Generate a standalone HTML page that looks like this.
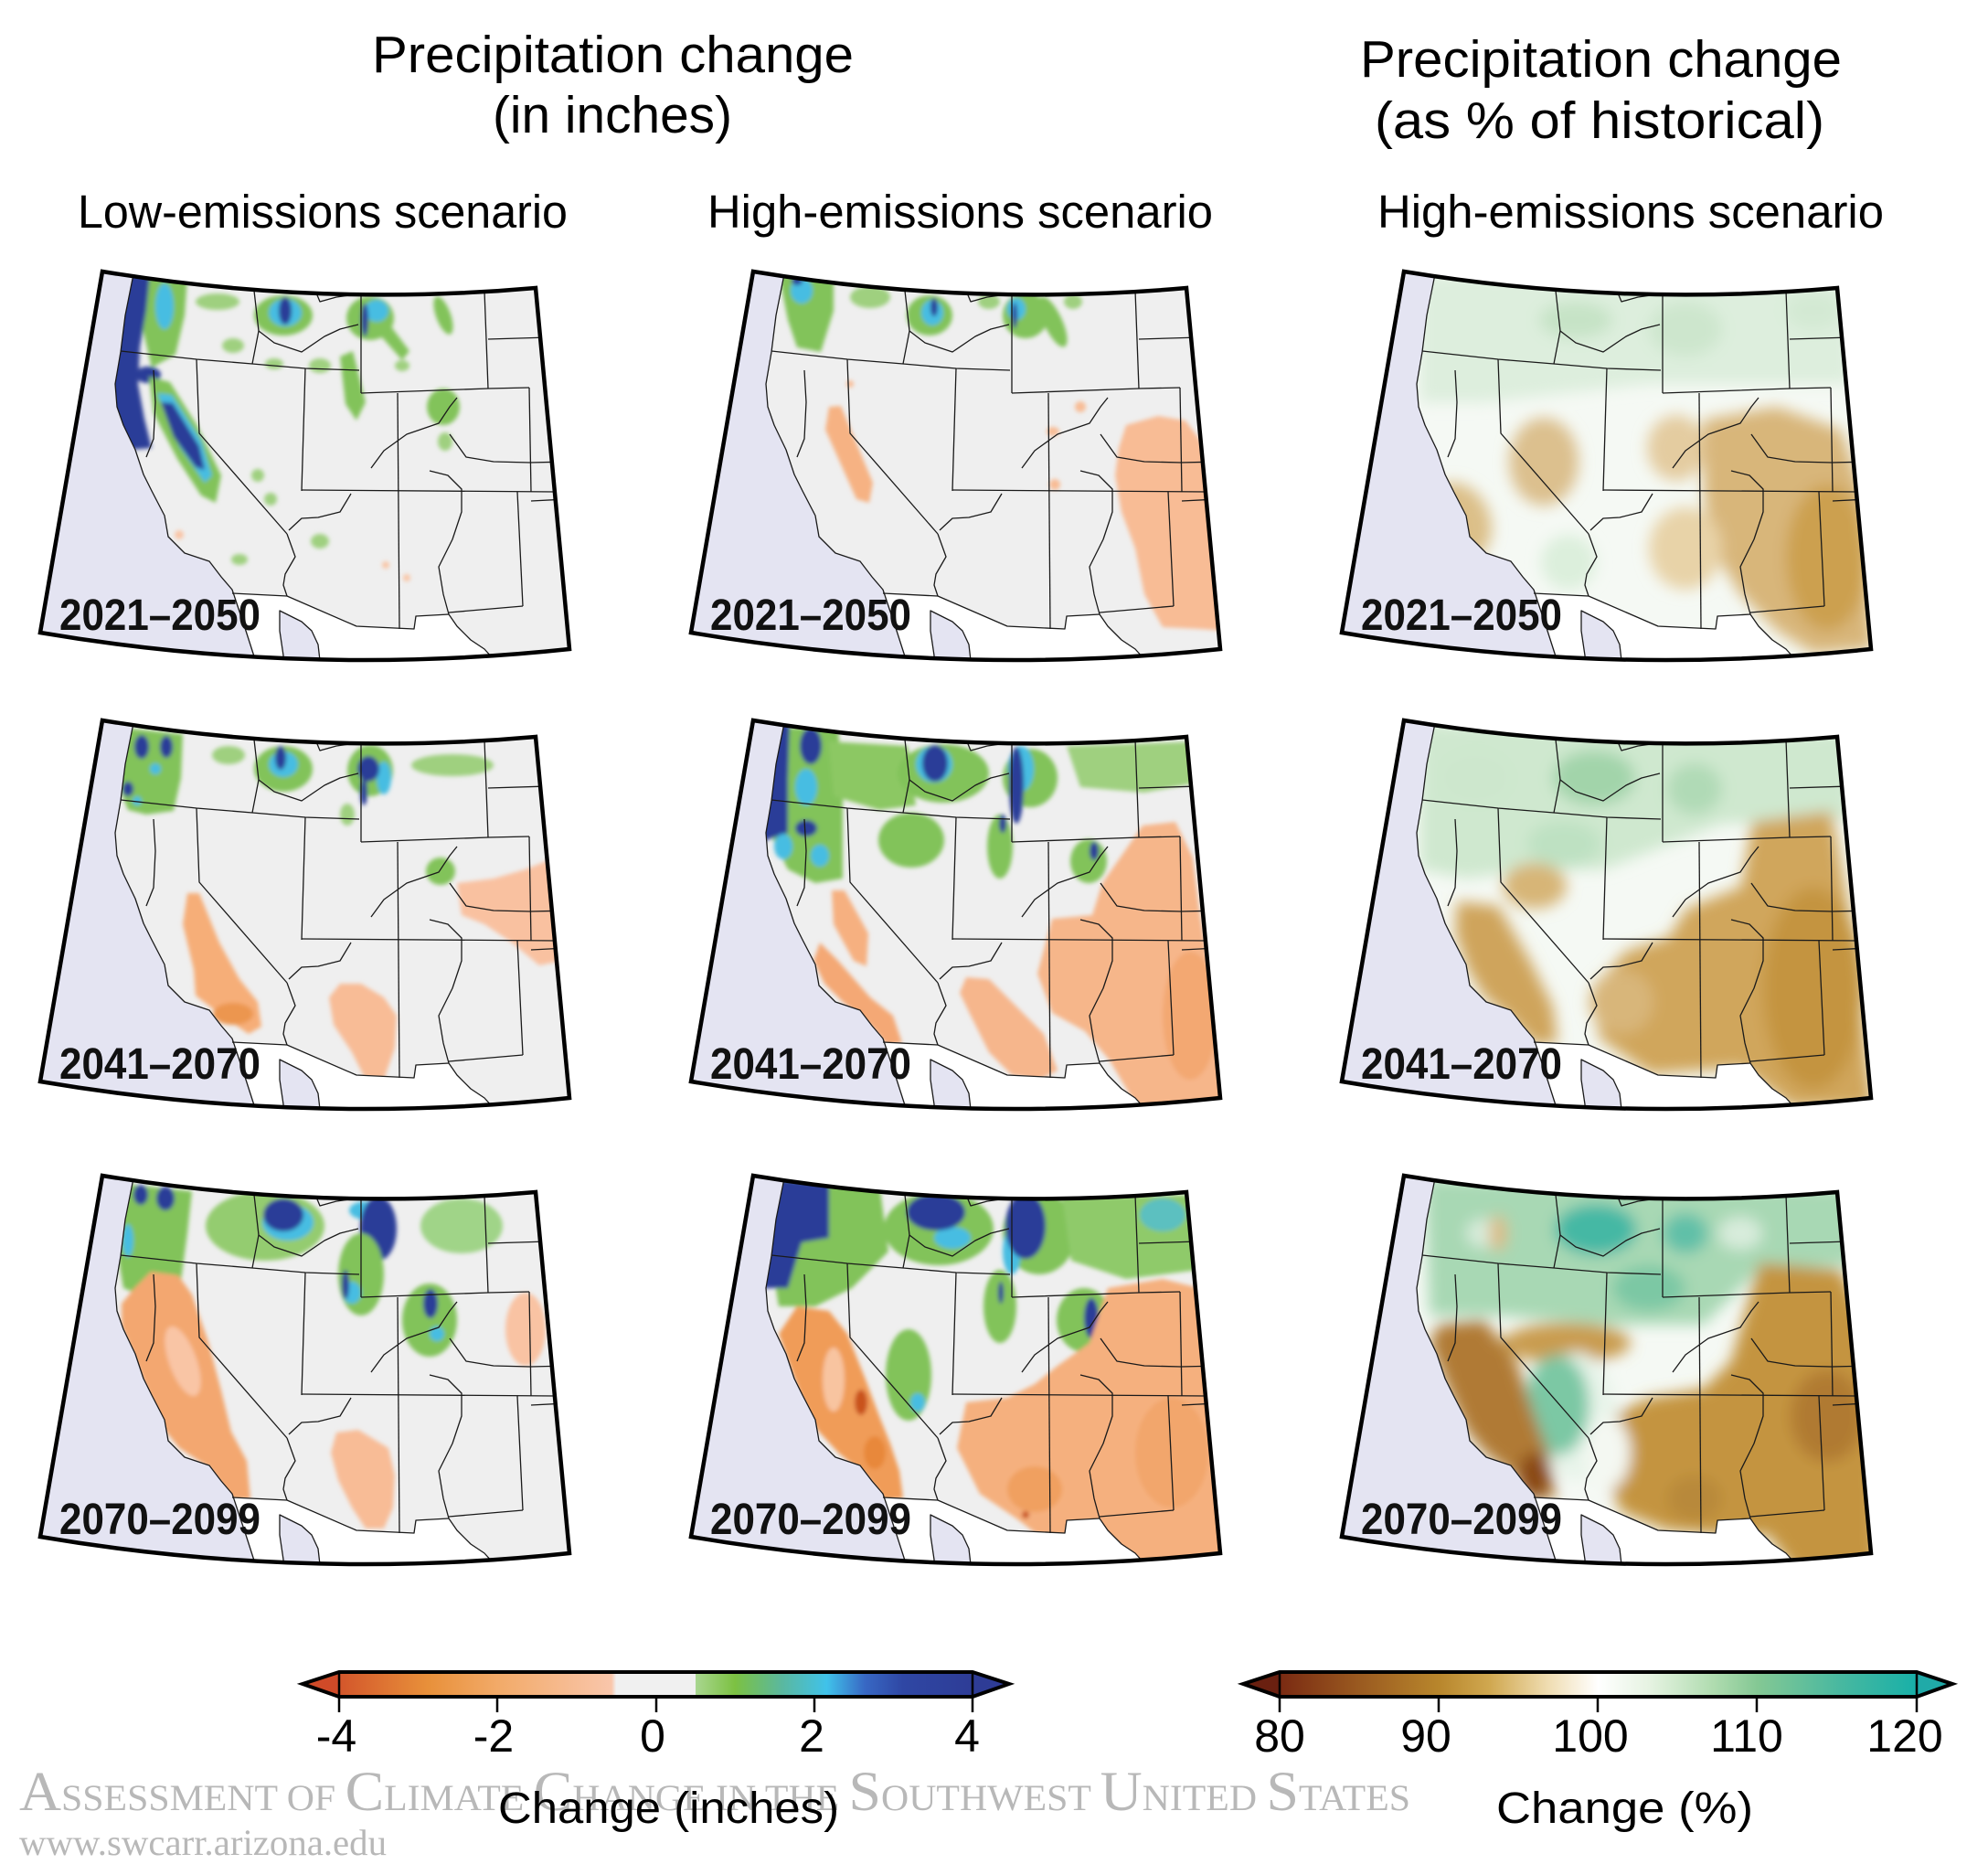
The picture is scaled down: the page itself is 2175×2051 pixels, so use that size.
<!DOCTYPE html>
<html><head><meta charset="utf-8"><title>Precipitation change</title>
<style>
html,body{margin:0;padding:0;background:#fff;}
svg{display:block;}
.t{font-family:"Liberation Sans",Arial,sans-serif;fill:#000;}
.lab{font-family:"Liberation Sans",Arial,sans-serif;font-weight:bold;font-size:48px;fill:#111;}
.wm{font-family:"Liberation Serif","Times New Roman",serif;fill:#b8b8b8;}
</style></head>
<body>
<svg xmlns="http://www.w3.org/2000/svg" width="2175" height="2051" viewBox="0 0 2175 2051">
<rect width="2175" height="2051" fill="#fff"/>
<defs>
 <clipPath id="frame"><path d="M112,297 Q349,336 586,315 L623,710 Q333,741 44,692 Z"/></clipPath>
 <filter id="bl" x="-10%" y="-10%" width="120%" height="120%"><feGaussianBlur stdDeviation="2.5"/></filter>
 <filter id="bl2" x="-10%" y="-10%" width="120%" height="120%"><feGaussianBlur stdDeviation="8"/></filter>
 <g id="sea">
  <path fill="#e4e4f2" d="M0,270 L146,270 L146,300 L140,330 L137,345 L132,385 L126,420 L128,445 L135,465 L148,492 L157,519 L166,537 L180,564 L184,587 L202,605 L229,614 L242,631 L254,645 L260,663 L269,690 L278,718 L282,770 L0,770 Z"/>
  <path fill="#ffffff" d="M254,649 L314,652 L390,685 L453,688 L455,674 L491,672 L500,685 L515,700 L530,710 L539,720 L545,770 L282,770 L278,718 L269,690 L260,663 Z"/>
  <path fill="#e4e4f2" d="M306,668 L314,672 L330,680 L341,690 L348,705 L352,770 L312,770 L310,717 L306,690 Z"/>
 </g>
 <g id="lines" fill="none" stroke="#1a1a1a" stroke-width="1.3" stroke-linejoin="round">
  <path d="M146,300 L140,330 L137,345 L132,385 L126,420 L128,445 L135,465 L148,492 L157,519 L166,537 L180,564 L184,587 L202,605 L229,614 L242,631 L254,645 L260,663 L269,690 L278,718 L282,740"/>
  <path d="M310,740 L310,717 L306,690 L306,668 L314,672 L330,680 L341,690 L348,705 L352,740"/>
  <path d="M254,649 L314,652 L390,685 L453,688 L455,674 L491,672"/>
  <path d="M470,515 L490,520 L505,535 L505,560 L495,590 L480,620 L485,650 L491,672 L500,685 L515,700 L530,710 L539,720 L545,740"/>
  <path d="M132,384 L215,393 L276,398 L334,403 L393,405"/>
  <path d="M278,318 L283,362 L276,398"/>
  <path d="M283,362 L300,375 L330,385 L355,368 L372,360 L392,355"/>
  <path d="M345,318 L350,330 L368,325 L390,322"/>
  <path d="M395,318 L395,430"/>
  <path d="M395,430 L534,425 L579,424"/>
  <path d="M530,318 L534,425"/>
  <path d="M534,371 L600,369"/>
  <path d="M435,430 L437,688"/>
  <path d="M334,403 L330,537"/>
  <path d="M215,393 L218,474 L314,584"/>
  <path d="M314,584 L323,609 L312,628 L310,640 L314,652"/>
  <path d="M330,536 L608,538"/>
  <path d="M579,424 L581,538"/>
  <path d="M566,538 L572,663"/>
  <path d="M491,670 L572,663"/>
  <path d="M581,548 L620,546"/>
  <path d="M384,540 L372,560 L348,566 L330,567 L316,580"/>
  <path d="M406,512 L420,493 L445,475 L480,463 L492,445 L500,435"/>
  <path d="M492,475 L510,500 L540,505 L580,506 L625,505"/>
  <path d="M168,405 L170,440 L168,480 L160,500"/>
 </g>
 <path id="frm" d="M112,297 Q349,336 586,315 L623,710 Q333,741 44,692 Z" fill="none" stroke="#000" stroke-width="4.5"/>
 <linearGradient id="cb1" x1="371" y1="0" x2="1064" y2="0" gradientUnits="userSpaceOnUse">
  <stop offset="0" stop-color="#d3562b"/>
  <stop offset="0.14" stop-color="#e8903a"/>
  <stop offset="0.25" stop-color="#f2aa68"/>
  <stop offset="0.43" stop-color="#f9c6ab"/>
  <stop offset="0.4375" stop-color="#f0f0f0"/>
  <stop offset="0.5625" stop-color="#f0f0f0"/>
  <stop offset="0.5626" stop-color="#a9d690"/>
  <stop offset="0.625" stop-color="#7cc142"/>
  <stop offset="0.7" stop-color="#5ab8a0"/>
  <stop offset="0.77" stop-color="#40c2ea"/>
  <stop offset="0.83" stop-color="#3868c4"/>
  <stop offset="0.89" stop-color="#2f47a4"/>
  <stop offset="1" stop-color="#2e3c96"/>
 </linearGradient>
 <linearGradient id="cb2" x1="1400" y1="0" x2="2097" y2="0" gradientUnits="userSpaceOnUse">
  <stop offset="0" stop-color="#7a2a12"/>
  <stop offset="0.125" stop-color="#9a5a20"/>
  <stop offset="0.25" stop-color="#b8862c"/>
  <stop offset="0.33" stop-color="#d0a850"/>
  <stop offset="0.42" stop-color="#efdcb0"/>
  <stop offset="0.5" stop-color="#ffffff"/>
  <stop offset="0.58" stop-color="#e6f3e2"/>
  <stop offset="0.68" stop-color="#b0dcb0"/>
  <stop offset="0.75" stop-color="#84c894"/>
  <stop offset="0.88" stop-color="#48b8a0"/>
  <stop offset="1" stop-color="#18b0a8"/>
 </linearGradient>
</defs>

<!-- Titles -->
<text class="t" x="407" y="79" font-size="57" textLength="527" lengthAdjust="spacingAndGlyphs">Precipitation change</text>
<text class="t" x="539" y="145" font-size="57" textLength="262" lengthAdjust="spacingAndGlyphs">(in inches)</text>
<text class="t" x="1488" y="84" font-size="57" textLength="527" lengthAdjust="spacingAndGlyphs">Precipitation change</text>
<text class="t" x="1504" y="151" font-size="57" textLength="492" lengthAdjust="spacingAndGlyphs">(as % of historical)</text>
<text class="t" x="85" y="249" font-size="51" textLength="536" lengthAdjust="spacingAndGlyphs">Low-emissions scenario</text>
<text class="t" x="774" y="249" font-size="51" textLength="553" lengthAdjust="spacingAndGlyphs">High-emissions scenario</text>
<text class="t" x="1507" y="249" font-size="51" textLength="554" lengthAdjust="spacingAndGlyphs">High-emissions scenario</text>

<!-- ===== Row 1 Col 1 ===== -->
<g transform="translate(0,0)">
 <g clip-path="url(#frame)">
  <rect x="30" y="270" width="630" height="490" fill="#efefef"/>
  <g filter="url(#bl)">
   <path fill="#82c35a" d="M160,300 L205,303 L202,345 L192,388 L166,402 L156,360 Z"/>
   <ellipse cx="180" cy="335" rx="10" ry="25" fill="#46bde2"/>
   <path fill="#2c3d98" d="M120,300 L164,300 L160,340 L153,380 L151,420 L158,458 L166,490 L120,494 Z"/>
   <ellipse cx="162" cy="410" rx="14" ry="9" fill="#2c3d98"/>
   <path fill="#82c35a" d="M163,412 L186,418 L216,466 L242,520 L236,550 L220,542 L194,502 L168,452 Z"/>
   <path fill="#46bde2" d="M172,430 L188,432 L220,482 L232,520 L224,528 L196,488 Z"/>
   <path fill="#2c3d98" d="M176,440 L189,441 L218,488 L224,514 L214,511 L190,478 Z"/>
   <ellipse cx="310" cy="345" rx="32" ry="22" fill="#82c35a"/>
   <ellipse cx="312" cy="342" rx="18" ry="15" fill="#46bde2"/>
   <ellipse cx="312" cy="340" rx="7" ry="15" fill="#2c3d98"/>
   <ellipse cx="405" cy="348" rx="26" ry="24" fill="#82c35a"/>
   <ellipse cx="412" cy="340" rx="13" ry="12" fill="#46bde2"/>
   <ellipse cx="399" cy="350" rx="4" ry="18" fill="#2c3d98"/>
   <path fill="#82c35a" d="M410,360 L424,352 L448,384 L440,394 Z"/>
   <path fill="#82c35a" d="M372,390 L386,384 L400,440 L390,460 L378,442 Z"/>
   <ellipse cx="485" cy="345" rx="8" ry="22" fill="#82c35a" transform="rotate(-20 485 345)"/>
   <ellipse cx="238" cy="330" rx="24" ry="9" fill="#9fd07f"/>
   <ellipse cx="255" cy="378" rx="12" ry="8" fill="#9fd07f"/>
   <ellipse cx="485" cy="445" rx="18" ry="20" fill="#82c35a"/>
   <ellipse cx="487" cy="483" rx="8" ry="10" fill="#9fd07f"/>
   <ellipse cx="282" cy="520" rx="7" ry="7" fill="#9fd07f"/>
   <ellipse cx="296" cy="546" rx="7" ry="7" fill="#9fd07f"/>
   <ellipse cx="350" cy="592" rx="10" ry="8" fill="#9fd07f"/>
   <ellipse cx="262" cy="612" rx="9" ry="6" fill="#9fd07f"/>
   <ellipse cx="300" cy="398" rx="10" ry="6" fill="#9fd07f"/>
   <ellipse cx="350" cy="400" rx="12" ry="8" fill="#9fd07f"/>
   <ellipse cx="440" cy="400" rx="8" ry="6" fill="#9fd07f"/>
   <circle cx="196" cy="585" r="5" fill="#f9c4a4"/>
   <circle cx="422" cy="618" r="4" fill="#f9c4a4"/>
   <circle cx="445" cy="632" r="4" fill="#f9c4a4"/>
  </g>
  <use href="#sea"/>
  <use href="#lines"/>
 </g>
 <use href="#frm"/>
 <text class="lab" x="65" y="689" textLength="220" lengthAdjust="spacingAndGlyphs">2021–2050</text>
</g>

<!-- ===== Row 1 Col 2 ===== -->
<g transform="translate(712,0)">
 <g clip-path="url(#frame)">
  <rect x="30" y="270" width="630" height="490" fill="#efefef"/>
  <g filter="url(#bl)">
   <path fill="#82c35a" d="M140,300 L200,304 L200,340 L186,385 L160,380 L150,350 Z"/>
   <ellipse cx="165" cy="318" rx="12" ry="14" fill="#46bde2"/>
   <ellipse cx="160" cy="307" rx="6" ry="5" fill="#2c3d98"/>
   <ellipse cx="240" cy="325" rx="22" ry="12" fill="#9fd07f"/>
   <ellipse cx="305" cy="345" rx="25" ry="22" fill="#82c35a"/>
   <ellipse cx="308" cy="342" rx="12" ry="14" fill="#46bde2"/>
   <ellipse cx="310" cy="336" rx="4" ry="10" fill="#2c3d98"/>
   <ellipse cx="410" cy="345" rx="25" ry="25" fill="#82c35a"/>
   <ellipse cx="400" cy="338" rx="10" ry="12" fill="#46bde2"/>
   <ellipse cx="398" cy="345" rx="3" ry="14" fill="#2c3d98"/>
   <ellipse cx="440" cy="352" rx="10" ry="30" fill="#82c35a" transform="rotate(-25 440 352)"/>
   <ellipse cx="370" cy="330" rx="12" ry="8" fill="#9fd07f"/>
   <ellipse cx="462" cy="330" rx="10" ry="8" fill="#9fd07f"/>
   <path fill="#f6b283" d="M195,445 L208,444 L243,528 L239,550 L225,546 L191,470 Z"/>
   <path fill="#f8bc95" d="M520,465 L555,455 L585,460 L600,480 L617,520 L624,600 L628,690 L600,688 L560,686 L540,650 L530,600 L515,560 L508,520 L512,490 Z"/>
   <circle cx="470" cy="445" r="6" fill="#f8bc95"/>
   <ellipse cx="440" cy="472" rx="7" ry="5" fill="#f8bc95"/>
   <circle cx="442" cy="530" r="6" fill="#f8bc95"/>
   <circle cx="218" cy="420" r="4" fill="#f8bc95"/>
  </g>
  <use href="#sea"/>
  <use href="#lines"/>
 </g>
 <use href="#frm"/>
 <text class="lab" x="65" y="689" textLength="220" lengthAdjust="spacingAndGlyphs">2021–2050</text>
</g>

<!-- ===== Row 1 Col 3 ===== -->
<g transform="translate(1424,0)">
 <g clip-path="url(#frame)">
  <rect x="30" y="270" width="630" height="490" fill="#f5f9f4"/>
  <g filter="url(#bl2)">
   <path fill="#ddeedd" d="M130,300 L600,310 L600,420 L380,420 L200,440 L130,440 Z"/>
   <ellipse cx="300" cy="350" rx="40" ry="20" fill="#c6e3c6"/>
   <ellipse cx="420" cy="360" rx="40" ry="30" fill="#cde6cd"/>
   <ellipse cx="560" cy="340" rx="30" ry="20" fill="#d3e9d3"/>
   <ellipse cx="265" cy="505" rx="38" ry="48" fill="#dcc08e"/>
   <ellipse cx="172" cy="570" rx="34" ry="44" fill="#dcbf88" transform="rotate(-25 172 570)"/>
   <ellipse cx="410" cy="490" rx="32" ry="36" fill="#e4cca0"/>
   <path fill="#d8b67a" d="M440,459 L520,445 L590,470 L615,540 L625,710 L560,715 L520,690 L480,650 L450,600 L440,540 Z"/>
   <ellipse cx="575" cy="610" rx="45" ry="80" fill="#cca050"/>
   <ellipse cx="420" cy="600" rx="40" ry="45" fill="#e8d3a8"/>
   <ellipse cx="292" cy="615" rx="30" ry="30" fill="#dcefdc"/>
  </g>
  <use href="#sea"/>
  <use href="#lines"/>
 </g>
 <use href="#frm"/>
 <text class="lab" x="65" y="689" textLength="220" lengthAdjust="spacingAndGlyphs">2021–2050</text>
</g>

<!-- ===== Row 2 Col 1 ===== -->
<g transform="translate(0,491)">
 <g clip-path="url(#frame)">
  <rect x="30" y="270" width="630" height="490" fill="#efefef"/>
  <g filter="url(#bl)">
   <path fill="#82c35a" d="M134,305 L200,312 L198,360 L190,396 L160,400 L140,395 L130,370 Z"/>
   <ellipse cx="155" cy="326" rx="8" ry="13" fill="#2c3d98"/>
   <ellipse cx="182" cy="326" rx="7" ry="12" fill="#2c3d98"/>
   <ellipse cx="140" cy="372" rx="6" ry="8" fill="#2c3d98"/>
   <circle cx="170" cy="350" r="6" fill="#46bde2"/>
   <circle cx="150" cy="385" r="5" fill="#46bde2"/>
   <ellipse cx="310" cy="350" rx="32" ry="25" fill="#82c35a"/>
   <ellipse cx="310" cy="345" rx="16" ry="14" fill="#46bde2"/>
   <ellipse cx="307" cy="338" rx="6" ry="13" fill="#2c3d98"/>
   <ellipse cx="405" cy="352" rx="25" ry="28" fill="#82c35a"/>
   <ellipse cx="420" cy="360" rx="8" ry="18" fill="#46bde2"/>
   <ellipse cx="403" cy="350" rx="12" ry="14" fill="#2c3d98"/>
   <ellipse cx="398" cy="375" rx="4" ry="15" fill="#2c3d98"/>
   <ellipse cx="495" cy="346" rx="45" ry="12" fill="#9fd07f"/>
   <ellipse cx="250" cy="335" rx="18" ry="10" fill="#9fd07f"/>
   <ellipse cx="482" cy="462" rx="16" ry="15" fill="#82c35a"/>
   <ellipse cx="380" cy="400" rx="8" ry="12" fill="#9fd07f"/>
   <path fill="#f6ae78" d="M205,486 L218,486 L240,540 L262,580 L282,605 L286,632 L272,640 L250,625 L232,612 L214,598 L212,570 L200,520 Z"/>
   <ellipse cx="255" cy="618" rx="22" ry="12" fill="#ec9650"/>
   <path fill="#f8bc96" d="M372,585 L395,585 L420,600 L434,620 L432,655 L420,690 L400,690 L385,660 L365,630 L360,600 Z"/>
   <path fill="#f9c1a0" d="M500,475 L540,470 L575,460 L600,450 L615,470 L615,560 L590,565 L560,540 L530,520 L505,510 Z"/>
  </g>
  <use href="#sea"/>
  <use href="#lines"/>
 </g>
 <use href="#frm"/>
 <text class="lab" x="65" y="689" textLength="220" lengthAdjust="spacingAndGlyphs">2041–2070</text>
</g>

<!-- ===== Row 2 Col 2 ===== -->
<g transform="translate(712,491)">
 <g clip-path="url(#frame)">
  <rect x="30" y="270" width="630" height="490" fill="#efefef"/>
  <g filter="url(#bl)">
   <path fill="#82c35a" d="M130,305 L205,305 L210,380 L210,470 L180,475 L150,460 L130,420 Z"/>
   <path fill="#8cc864" d="M194,320 L281,325 L290,390 L250,395 L200,380 Z"/>
   <ellipse cx="170" cy="370" rx="12" ry="20" fill="#46bde2"/>
   <ellipse cx="185" cy="445" rx="10" ry="12" fill="#46bde2"/>
   <path fill="#2c3d98" d="M120,300 L152,300 L150,360 L150,420 L120,430 Z"/>
   <ellipse cx="175" cy="325" rx="12" ry="20" fill="#2c3d98"/>
   <ellipse cx="170" cy="415" rx="12" ry="9" fill="#2c3d98"/>
   <ellipse cx="145" cy="435" rx="10" ry="14" fill="#46bde2"/>
   <ellipse cx="320" cy="355" rx="50" ry="32" fill="#82c35a"/>
   <ellipse cx="310" cy="345" rx="20" ry="20" fill="#46bde2"/>
   <ellipse cx="311" cy="344" rx="14" ry="20" fill="#2c3d98"/>
   <ellipse cx="415" cy="360" rx="30" ry="32" fill="#82c35a"/>
   <ellipse cx="405" cy="350" rx="14" ry="25" fill="#46bde2"/>
   <ellipse cx="400" cy="368" rx="8" ry="42" fill="#2c3d98"/>
   <ellipse cx="285" cy="428" rx="36" ry="30" fill="#82c35a"/>
   <ellipse cx="382" cy="435" rx="14" ry="35" fill="#82c35a"/>
   <ellipse cx="385" cy="410" rx="4" ry="10" fill="#2c3d98"/>
   <path fill="#9fd07f" d="M455,325 L600,320 L600,365 L540,376 L470,370 Z"/>
   <ellipse cx="479" cy="451" rx="20" ry="24" fill="#82c35a"/>
   <ellipse cx="485" cy="440" rx="5" ry="10" fill="#2c3d98"/>
   <path fill="#f6b080" d="M198,483 L212,483 L238,530 L236,566 L222,560 L200,520 Z"/>
   <path fill="#f4a874" d="M185,540 L205,560 L240,600 L265,620 L275,650 L258,652 L240,630 L210,605 L190,585 L178,560 Z"/>
   <path fill="#f6b68c" d="M345,578 L370,580 L400,610 L430,640 L445,680 L425,690 L395,685 L370,660 L350,620 L338,595 Z"/>
   <path fill="#f6b68a" d="M494,475 L538,412 L574,408 L593,447 L601,510 L617,605 L630,730 L538,730 L502,669 L475,637 L439,617 L423,574 L439,514 L483,510 Z"/>
   <ellipse cx="590" cy="620" rx="30" ry="70" fill="#f3a872"/>
  </g>
  <use href="#sea"/>
  <use href="#lines"/>
 </g>
 <use href="#frm"/>
 <text class="lab" x="65" y="689" textLength="220" lengthAdjust="spacingAndGlyphs">2041–2070</text>
</g>

<!-- ===== Row 2 Col 3 ===== -->
<g transform="translate(1424,491)">
 <g clip-path="url(#frame)">
  <rect x="30" y="270" width="630" height="490" fill="#f5f9f4"/>
  <g filter="url(#bl2)">
   <path fill="#cfe8cf" d="M130,300 L600,310 L600,405 L460,410 L330,460 L250,460 L180,470 L130,460 Z"/>
   <ellipse cx="320" cy="360" rx="45" ry="30" fill="#a2d4aa"/>
   <ellipse cx="430" cy="372" rx="30" ry="28" fill="#b0dab6"/>
   <ellipse cx="287" cy="432" rx="40" ry="25" fill="#bee1c2"/>
   <ellipse cx="190" cy="360" rx="40" ry="30" fill="#cde7cd"/>
   <path fill="#cfa45c" d="M170,495 L215,500 L250,560 L275,610 L280,650 L255,652 L225,620 L200,600 L182,570 L168,530 Z"/>
   <ellipse cx="255" cy="478" rx="35" ry="25" fill="#d7b577"/>
   <path fill="#d0a65c" d="M493,408 L580,396 L603,526 L625,720 L536,720 L481,677 L382,684 L326,645 L319,590 L354,550 L402,534 L421,503 L481,479 Z"/>
   <ellipse cx="560" cy="590" rx="55" ry="110" fill="#c49440"/>
   <ellipse cx="350" cy="605" rx="35" ry="35" fill="#d8b67a"/>
  </g>
  <use href="#sea"/>
  <use href="#lines"/>
 </g>
 <use href="#frm"/>
 <text class="lab" x="65" y="689" textLength="220" lengthAdjust="spacingAndGlyphs">2041–2070</text>
</g>

<!-- ===== Row 3 Col 1 ===== -->
<g transform="translate(0,989)">
 <g clip-path="url(#frame)">
  <rect x="30" y="270" width="630" height="490" fill="#efefef"/>
  <g filter="url(#bl)">
   <path fill="#82c35a" d="M128,305 L210,314 L205,360 L196,427 L160,430 L135,420 L128,380 Z"/>
   <ellipse cx="154" cy="318" rx="8" ry="11" fill="#2c3d98"/>
   <ellipse cx="181" cy="322" rx="10" ry="13" fill="#2c3d98"/>
   <ellipse cx="140" cy="368" rx="6" ry="18" fill="#46bde2"/>
   <ellipse cx="290" cy="352" rx="65" ry="38" fill="#94cc70"/>
   <ellipse cx="315" cy="348" rx="28" ry="20" fill="#46bde2"/>
   <ellipse cx="310" cy="340" rx="22" ry="18" fill="#2c3d98"/>
   <ellipse cx="400" cy="335" rx="18" ry="10" fill="#46bde2"/>
   <ellipse cx="414" cy="355" rx="20" ry="35" fill="#2c3d98"/>
   <ellipse cx="395" cy="405" rx="25" ry="45" fill="#82c35a"/>
   <ellipse cx="385" cy="425" rx="10" ry="12" fill="#46bde2"/>
   <ellipse cx="378" cy="416" rx="4" ry="16" fill="#2c3d98"/>
   <ellipse cx="505" cy="352" rx="45" ry="30" fill="#a0d488"/>
   <ellipse cx="470" cy="455" rx="30" ry="40" fill="#82c35a"/>
   <ellipse cx="478" cy="470" rx="8" ry="8" fill="#46bde2"/>
   <ellipse cx="471" cy="437" rx="8" ry="16" fill="#2c3d98"/>
   <path fill="#f3a770" d="M165,402 L195,406 L210,427 L228,479 L242,532 L253,577 L270,609 L274,651 L253,651 L228,616 L196,595 L179,574 L161,532 L147,497 L133,462 L133,437 L147,420 Z"/>
   <ellipse cx="200" cy="500" rx="15" ry="40" fill="#f9c5a5" transform="rotate(-20 200 500)"/>
   <path fill="#f8bc96" d="M368,578 L392,575 L425,595 L432,625 L430,660 L420,683 L400,683 L385,660 L370,630 L362,600 Z"/>
   <ellipse cx="575" cy="465" rx="22" ry="40" fill="#f9c3a3"/>
  </g>
  <use href="#sea"/>
  <use href="#lines"/>
 </g>
 <use href="#frm"/>
 <text class="lab" x="65" y="689" textLength="220" lengthAdjust="spacingAndGlyphs">2070–2099</text>
</g>

<!-- ===== Row 3 Col 2 ===== -->
<g transform="translate(712,989)">
 <g clip-path="url(#frame)">
  <rect x="30" y="270" width="630" height="490" fill="#efefef"/>
  <g filter="url(#bl)">
   <path fill="#82c35a" d="M130,300 L250,305 L260,380 L220,420 L180,440 L140,440 L130,380 Z"/>
   <path fill="#2c3d98" d="M120,300 L195,305 L195,365 L165,370 L150,420 L120,420 Z"/>
   <ellipse cx="315" cy="355" rx="60" ry="40" fill="#82c35a"/>
   <ellipse cx="330" cy="365" rx="20" ry="12" fill="#46bde2"/>
   <ellipse cx="312" cy="337" rx="32" ry="20" fill="#2c3d98"/>
   <ellipse cx="425" cy="360" rx="40" ry="45" fill="#82c35a"/>
   <ellipse cx="395" cy="380" rx="10" ry="25" fill="#46bde2"/>
   <ellipse cx="410" cy="352" rx="22" ry="36" fill="#2c3d98"/>
   <path fill="#8fca6a" d="M450,320 L600,318 L600,400 L520,410 L460,390 Z"/>
   <ellipse cx="560" cy="340" rx="25" ry="18" fill="#5cc0c0"/>
   <ellipse cx="382" cy="440" rx="18" ry="40" fill="#82c35a"/>
   <ellipse cx="383" cy="425" rx="3" ry="12" fill="#2c3d98"/>
   <ellipse cx="474" cy="455" rx="30" ry="35" fill="#82c35a"/>
   <ellipse cx="482" cy="453" rx="8" ry="22" fill="#2c3d98"/>
   <ellipse cx="282" cy="515" rx="25" ry="50" fill="#82c35a"/>
   <ellipse cx="292" cy="545" rx="8" ry="10" fill="#46bde2"/>
   <path fill="#f09c58" d="M160,440 L195,445 L215,470 L235,520 L250,560 L262,590 L272,620 L276,650 L256,652 L235,625 L205,600 L182,575 L165,540 L150,500 L140,470 Z"/>
   <ellipse cx="200" cy="520" rx="12" ry="35" fill="#f8c4a0"/>
   <ellipse cx="245" cy="600" rx="12" ry="18" fill="#e8883a"/>
   <ellipse cx="230" cy="545" rx="7" ry="14" fill="#c9531f"/>
   <path fill="#f5b07e" d="M500,420 L560,410 L600,420 L615,480 L622,560 L630,730 L560,730 L470,705 L430,695 L400,672 L360,645 L335,595 L345,545 L390,540 L420,525 L445,505 L480,480 Z"/>
   <ellipse cx="570" cy="600" rx="40" ry="60" fill="#f2a66c"/>
   <ellipse cx="420" cy="640" rx="30" ry="25" fill="#f0a060"/>
   <circle cx="410" cy="668" r="4" fill="#c9531f"/>
  </g>
  <use href="#sea"/>
  <use href="#lines"/>
 </g>
 <use href="#frm"/>
 <text class="lab" x="65" y="689" textLength="220" lengthAdjust="spacingAndGlyphs">2070–2099</text>
</g>

<!-- ===== Row 3 Col 3 ===== -->
<g transform="translate(1424,989)">
 <g clip-path="url(#frame)">
  <rect x="30" y="270" width="630" height="490" fill="#f5f9f4"/>
  <g filter="url(#bl2)">
   <path fill="#a8d8b4" d="M135,300 L600,310 L605,395 L500,400 L440,460 L330,460 L220,450 L140,450 Z"/>
   <ellipse cx="322" cy="356" rx="45" ry="28" fill="#45b8a4"/>
   <ellipse cx="420" cy="360" rx="25" ry="22" fill="#60c0a8"/>
   <ellipse cx="480" cy="360" rx="24" ry="18" fill="#d8ecdc"/>
   <ellipse cx="200" cy="360" rx="20" ry="16" fill="#d8ecdc"/>
   <ellipse cx="380" cy="420" rx="40" ry="25" fill="#7cc8a4"/>
   <ellipse cx="215" cy="360" rx="10" ry="20" fill="#dcbb84"/>
   <path fill="#c49440" d="M501,392 L590,400 L626,480 L630,730 L540,730 L510,690 L460,690 L400,685 L350,665 L330,620 L340,560 L380,540 L440,530 L470,500 L490,430 Z"/>
   <ellipse cx="575" cy="560" rx="40" ry="50" fill="#b07a30"/>
   <ellipse cx="430" cy="650" rx="30" ry="25" fill="#b8893a"/>
   <ellipse cx="290" cy="480" rx="70" ry="22" fill="#c99c50"/>
   <ellipse cx="300" cy="560" rx="45" ry="70" fill="#e8f4ea"/>
   <ellipse cx="280" cy="548" rx="35" ry="55" fill="#7cc8a4"/>
   <path fill="#b07a34" d="M150,460 L200,455 L235,500 L255,560 L270,600 L278,650 L255,652 L232,625 L200,600 L180,575 L160,530 L140,480 Z"/>
   <ellipse cx="255" cy="625" rx="18" ry="25" fill="#8a4a18"/>
   <ellipse cx="335" cy="600" rx="25" ry="40" fill="#f4f8f2"/>
  </g>
  <use href="#sea"/>
  <use href="#lines"/>
 </g>
 <use href="#frm"/>
 <text class="lab" x="65" y="689" textLength="220" lengthAdjust="spacingAndGlyphs">2070–2099</text>
</g>

<!-- Watermark -->
<text class="wm" x="21" y="1980" textLength="1522" lengthAdjust="spacingAndGlyphs"><tspan font-size="61">A</tspan><tspan font-size="40">SSESSMENT OF </tspan><tspan font-size="61">C</tspan><tspan font-size="40">LIMATE </tspan><tspan font-size="61">C</tspan><tspan font-size="40">HANGE IN THE </tspan><tspan font-size="61">S</tspan><tspan font-size="40">OUTHWEST </tspan><tspan font-size="61">U</tspan><tspan font-size="40">NITED </tspan><tspan font-size="61">S</tspan><tspan font-size="40">TATES</tspan></text>
<text class="wm" x="21" y="2029" font-size="40" textLength="402" lengthAdjust="spacingAndGlyphs">www.swcarr.arizona.edu</text>

<!-- Colorbar 1 -->
<path d="M331,1842 L371,1829 L371,1856 Z" fill="#d04a28"/>
<rect x="371" y="1829" width="693" height="27" fill="url(#cb1)"/>
<path d="M1104,1842 L1064,1829 L1064,1856 Z" fill="#2e3c96"/>
<path d="M331,1842 L371,1829 L1064,1829 L1104,1842 L1064,1856 L371,1856 Z" fill="none" stroke="#000" stroke-width="4" stroke-linejoin="miter"/>
<line x1="371" y1="1829" x2="371" y2="1856" stroke="#000" stroke-width="2.5"/>
<line x1="1064" y1="1829" x2="1064" y2="1856" stroke="#000" stroke-width="2.5"/>
<g stroke="#000" stroke-width="2.5">
 <line x1="371" y1="1856" x2="371" y2="1873"/>
 <line x1="544" y1="1856" x2="544" y2="1873"/>
 <line x1="718" y1="1856" x2="718" y2="1873"/>
 <line x1="891" y1="1856" x2="891" y2="1873"/>
 <line x1="1064" y1="1856" x2="1064" y2="1873"/>
</g>
<g class="t" font-size="50" text-anchor="middle">
 <text x="368" y="1916">-4</text>
 <text x="540" y="1916">-2</text>
 <text x="714" y="1916">0</text>
 <text x="888" y="1916">2</text>
 <text x="1058" y="1916">4</text>
</g>
<text class="t" x="545" y="1994" font-size="48" textLength="373" lengthAdjust="spacingAndGlyphs">Change (inches)</text>

<!-- Colorbar 2 -->
<path d="M1360,1842 L1400,1829 L1400,1856 Z" fill="#6a2010"/>
<rect x="1400" y="1829" width="697" height="27" fill="url(#cb2)"/>
<path d="M2136,1842 L2097,1829 L2097,1856 Z" fill="#20aaa8"/>
<path d="M1360,1842 L1400,1829 L2097,1829 L2136,1842 L2097,1856 L1400,1856 Z" fill="none" stroke="#000" stroke-width="4" stroke-linejoin="miter"/>
<line x1="1400" y1="1829" x2="1400" y2="1856" stroke="#000" stroke-width="2.5"/>
<line x1="2097" y1="1829" x2="2097" y2="1856" stroke="#000" stroke-width="2.5"/>
<g stroke="#000" stroke-width="2.5">
 <line x1="1400" y1="1856" x2="1400" y2="1873"/>
 <line x1="1574" y1="1856" x2="1574" y2="1873"/>
 <line x1="1748" y1="1856" x2="1748" y2="1873"/>
 <line x1="1922" y1="1856" x2="1922" y2="1873"/>
 <line x1="2097" y1="1856" x2="2097" y2="1873"/>
</g>
<g class="t" font-size="50" text-anchor="middle">
 <text x="1400" y="1916">80</text>
 <text x="1560" y="1916">90</text>
 <text x="1740" y="1916">100</text>
 <text x="1911" y="1916">110</text>
 <text x="2084" y="1916">120</text>
</g>
<text class="t" x="1637" y="1994" font-size="48" textLength="281" lengthAdjust="spacingAndGlyphs">Change (%)</text>
</svg>
</body></html>
